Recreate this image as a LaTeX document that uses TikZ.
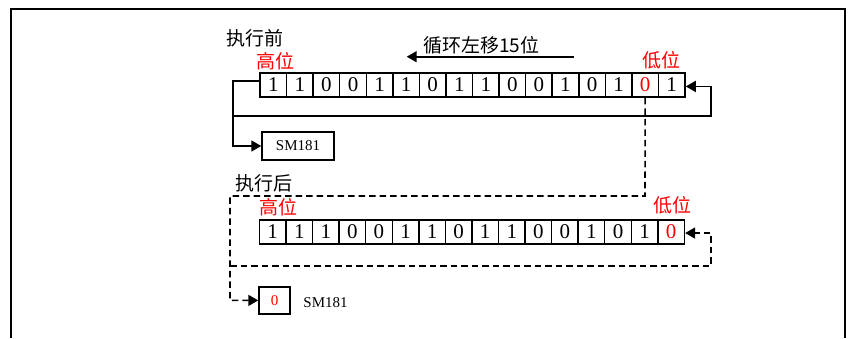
\documentclass[tikz,border=0pt]{standalone}
\usepackage{fontspec}
\setmainfont{Liberation Serif}
\newfontfamily\cjk{Noto Sans CJK SC}
\usetikzlibrary{arrows.meta}
\tikzset{
  cell/.style={draw, line width=1.5pt, minimum width=26.56pt, minimum height=24pt, inner sep=0pt, anchor=north west, font=\fontsize{21}{21}\selectfont},
  conn/.style={line width=1.6pt},
  dconn/.style={line width=1.6pt, dash pattern=on 6.5pt off 4pt},
  tip/.style={-{Triangle[length=10pt,width=11pt]}},
  cn/.style={font=\cjk\fontsize{19}{19}\selectfont, inner sep=0pt},
  cnred/.style={cn, text=red},
  box/.style={draw, line width=1.5pt, inner sep=0pt},
}
\begin{document}
\begin{tikzpicture}[x=1pt,y=-1pt]
\useasboundingbox (0,0) rectangle (851,338);
% outer frame
\draw[line width=2.2pt] (11,338) -- (11,9) -- (845,9) -- (845,338);
% top register
\foreach \v [count=\i] in {1,1,0,0,1,1,0,1,1,0,0,1,0,1,0,1}
  \node[cell] (t\i) at ({259.3+(\i-1)*26.56},72.3) {\ifnum\i=15 \color{red}\fi\v};
% bottom register
\foreach \v [count=\i] in {1,1,1,0,0,1,1,0,1,1,0,0,1,0,1,0}
  \node[cell] (b\i) at ({258.7+(\i-1)*26.56},219.3) {\ifnum\i=16 \color{red}\fi\v};
% labels
\node[cn] (before) at (255,38) {执行前};
\node[cnred] (hiA) at (275,61) {高位};
\node[cnred] (loA) at (661,60) {低位};
\node[cn] (after) at (264,183) {执行后};
\node[cnred] (hiB) at (278,207.5) {高位};
\node[cnred] (loB) at (672,205) {低位};
\node[cn, anchor=base west] (shift) at (423,52) {循环左移15位};
% shift arrow
\coordinate (sA) at (574,56.7);
\coordinate (sB) at (406.7,56.7);
\draw[conn, tip] (sA) -- (sB);
% SM181 boxes
\node[box, minimum width=72pt, minimum height=28pt, font=\fontsize{15}{15}\selectfont] (sm) at (298,146) {SM181};
\node[box, minimum width=31pt, minimum height=27.3pt, font=\fontsize{15}{15}\selectfont, text=red] (zb) at (274.5,300.4) {0};
\node[font=\fontsize{15}{15}\selectfont, inner sep=0pt] (smt) at (325.5,302.7) {SM181};
% top loop
\coordinate (jA) at (232.7,116);
\coordinate (rA) at (711,116);
\draw[conn, tip] ([yshift=4pt]t1.west) -- ++(-26.6,0) |- (sm.west);
\draw[conn, tip] (jA) -- (rA) |- ([yshift=-1.4pt]t16.east);
% dashed transfer
\coordinate (dA) at (645,196);
\coordinate (dB) at (230,196);
\coordinate (jB) at (230,265.7);
\coordinate (rB) at (711,265.7);
\draw[dconn, tip] (t15.south) -- (dA) -- (dB) |- (zb.west);
\draw[dconn, tip] (jB) -- (rB) |- ([yshift=-1pt]b16.east);
\end{tikzpicture}
\end{document}
